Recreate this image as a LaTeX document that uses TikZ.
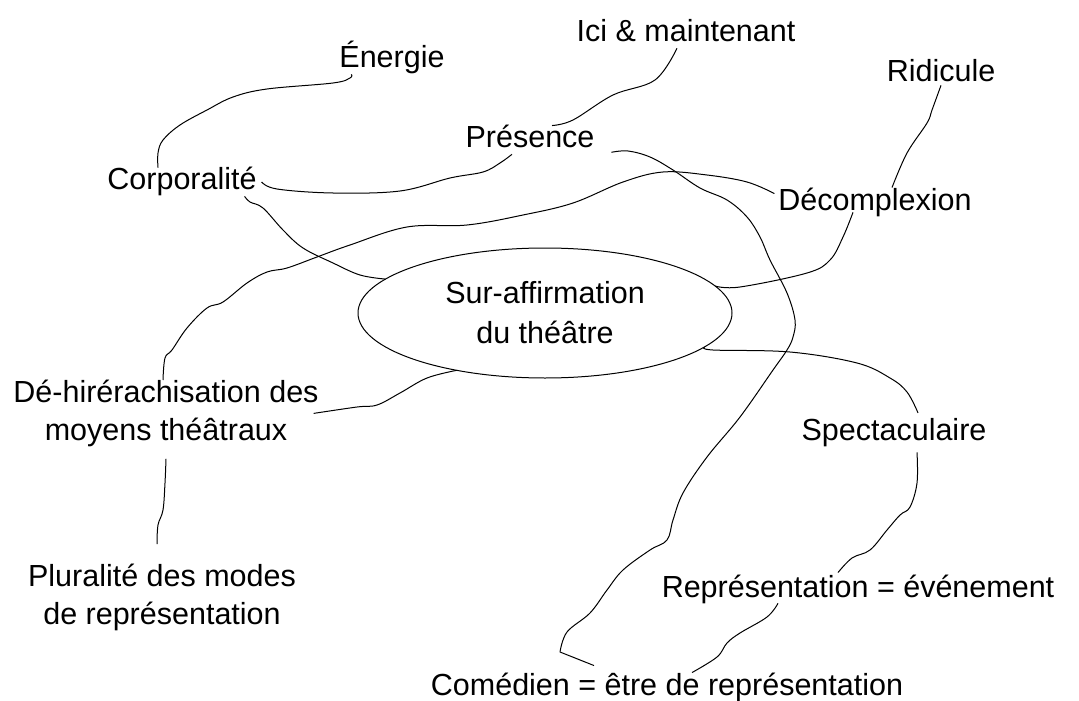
\documentclass[tikz,border=0pt]{standalone}
\usepackage{fontspec}
\setmainfont{Liberation Sans}
\usetikzlibrary{shapes.geometric}
\newcommand{\mapfont}{\fontsize{15.25}{19}\selectfont}

\tikzset{
  concept/.style={inner sep=0pt, outer sep=0pt, font=\mapfont},
  core/.style={ellipse, draw, line width=0.5pt, inner sep=0pt, outer sep=0pt,
    minimum width=187pt, minimum height=65pt, align=center,
    font=\fontsize{15.25}{20}\selectfont},
  link/.style={line width=0.5pt, line join=round}
}

\begin{document}
\begin{tikzpicture}[x=0.5pt, y=-0.5pt]
        \useasboundingbox (0,0) rectangle (1079,700);

        % central idea
        \node[core] (ell) at (545,313) {Sur-affirmation\\du théâtre};

        % satellites
        \node[concept, anchor=base] (nrg) at (392,68) {Énergie};
        \node[concept, anchor=base] (ici) at (686,42) {Ici \& maintenant};
        \node[concept, anchor=base] (rid) at (941,82) {Ridicule};
        \node[concept, anchor=base] (pres) at (530,148) {Présence};
        \node[concept, anchor=base] (corp) at (182,190) {Corporalité};
        \node[concept, anchor=base] (dec) at (875,210) {Décomplexion};
        \node[concept, anchor=base] (spec) at (894,440) {Spectaculaire};
        \node[concept, anchor=base] (repr) at (858,597) {Représentation = événement};
        \node[concept, anchor=base] (com) at (667,695) {Comédien = être de représentation};
        \node[concept, anchor=north, align=center] (dehi) at (166,380) {Dé-hirérachisation des\\moyens théâtraux};
        \node[concept, anchor=north, align=center] (plur) at (162,564) {Pluralité des modes\\de représentation};

        % edges (hand drawn)
        \draw[link] plot[smooth, tension=0.6] coordinates {([xshift=6pt]nrg.south west) (350,78) (333,83) (267,89) (233,97) (207,110) (180,125) (163,140) (158,153) ([xshift=-12pt]corp.north)};
        \draw[link] plot[smooth, tension=0.6] coordinates {([xshift=2.5pt]corp.east) (277,189) (333,193) (400,191) (450,178) (483,172) (500,163) ([xshift=-9pt,yshift=-3pt]pres.south)};
        \draw[link] plot[smooth, tension=0.6] coordinates {([xshift=11pt]pres.north) (573,120) (613,95) (655,80) ([xshift=-4.5pt,yshift=-3pt]ici.south)};
        \draw[link] plot[smooth, tension=0.6] coordinates {([xshift=8.5pt,yshift=-2pt]pres.south east) (628,151) (650,157) (673,170) (700,188) (727,200) (747,217) (760,237) (770,260) (787,293) (795,320) (793,337) (787,350) (773,370) (740,417) (707,457) (683,493) (673,520) (667,540) (650,550) (623,570) (607,590) (590,613) (567,632) (560,652)} -- ([xshift=-36.5pt,yshift=3.5pt]com.north);
        \draw[link] plot[smooth, tension=0.6] coordinates {([xshift=-6pt]corp.south east) (250,202) (263,208) (283,230) (303,248) (333,263) (360,275) (ell.168)};
        \draw[link] plot[smooth, tension=0.6] coordinates {([xshift=-1.5pt]dehi.north) (165,358) (172,350) (187,328) (207,308) (223,302) (247,283) (267,272) (287,268) (317,257) (350,245) (407,227) (467,225) (523,215) (573,203) (623,182) (663,172) (707,175) (747,182) ([xshift=-2pt,yshift=-3pt]dec.north west)};
        \draw[link] plot[smooth, tension=0.6] coordinates {(ell.9) (740,287) (807,273) (830,260) (843,237) ([xshift=-11pt,yshift=2pt]dec.south)};
        \draw[link] plot[smooth, tension=0.6] coordinates {([yshift=-1.5pt]rid.south) (932,110) (927,123) (907,153) ([xshift=8.5pt]dec.north)};
        \draw[link] plot[smooth, tension=0.6] coordinates {(ell.348) (713,350) (790,352) (857,363) (890,378) (907,392) ([xshift=12pt,yshift=2.5pt]spec.north)};
        \draw[link] plot[smooth, tension=0.6] coordinates {([xshift=11.5pt,yshift=-3pt]spec.south) (917,483) (910,507) (900,515) (887,530) (870,550) (852,558) ([xshift=-10pt,yshift=1pt]repr.north)};
        \draw[link] plot[smooth, tension=0.6] coordinates {([xshift=-40pt]repr.south) (767,617) (740,633) (727,643) (717,657) ([xshift=12.5pt]com.north)};
        \draw[link] plot[smooth, tension=0.6] coordinates {(ell.213) (427,378) (400,393) (377,405) (357,407) ([xshift=-2.5pt]dehi.east)};
        \draw[link] plot[smooth, tension=0.6] coordinates {([yshift=-6pt]dehi.south) (165,483) (163,510) (158,525) ([xshift=-2.5pt,yshift=10pt]plur.north)};
\end{tikzpicture}
\end{document}
